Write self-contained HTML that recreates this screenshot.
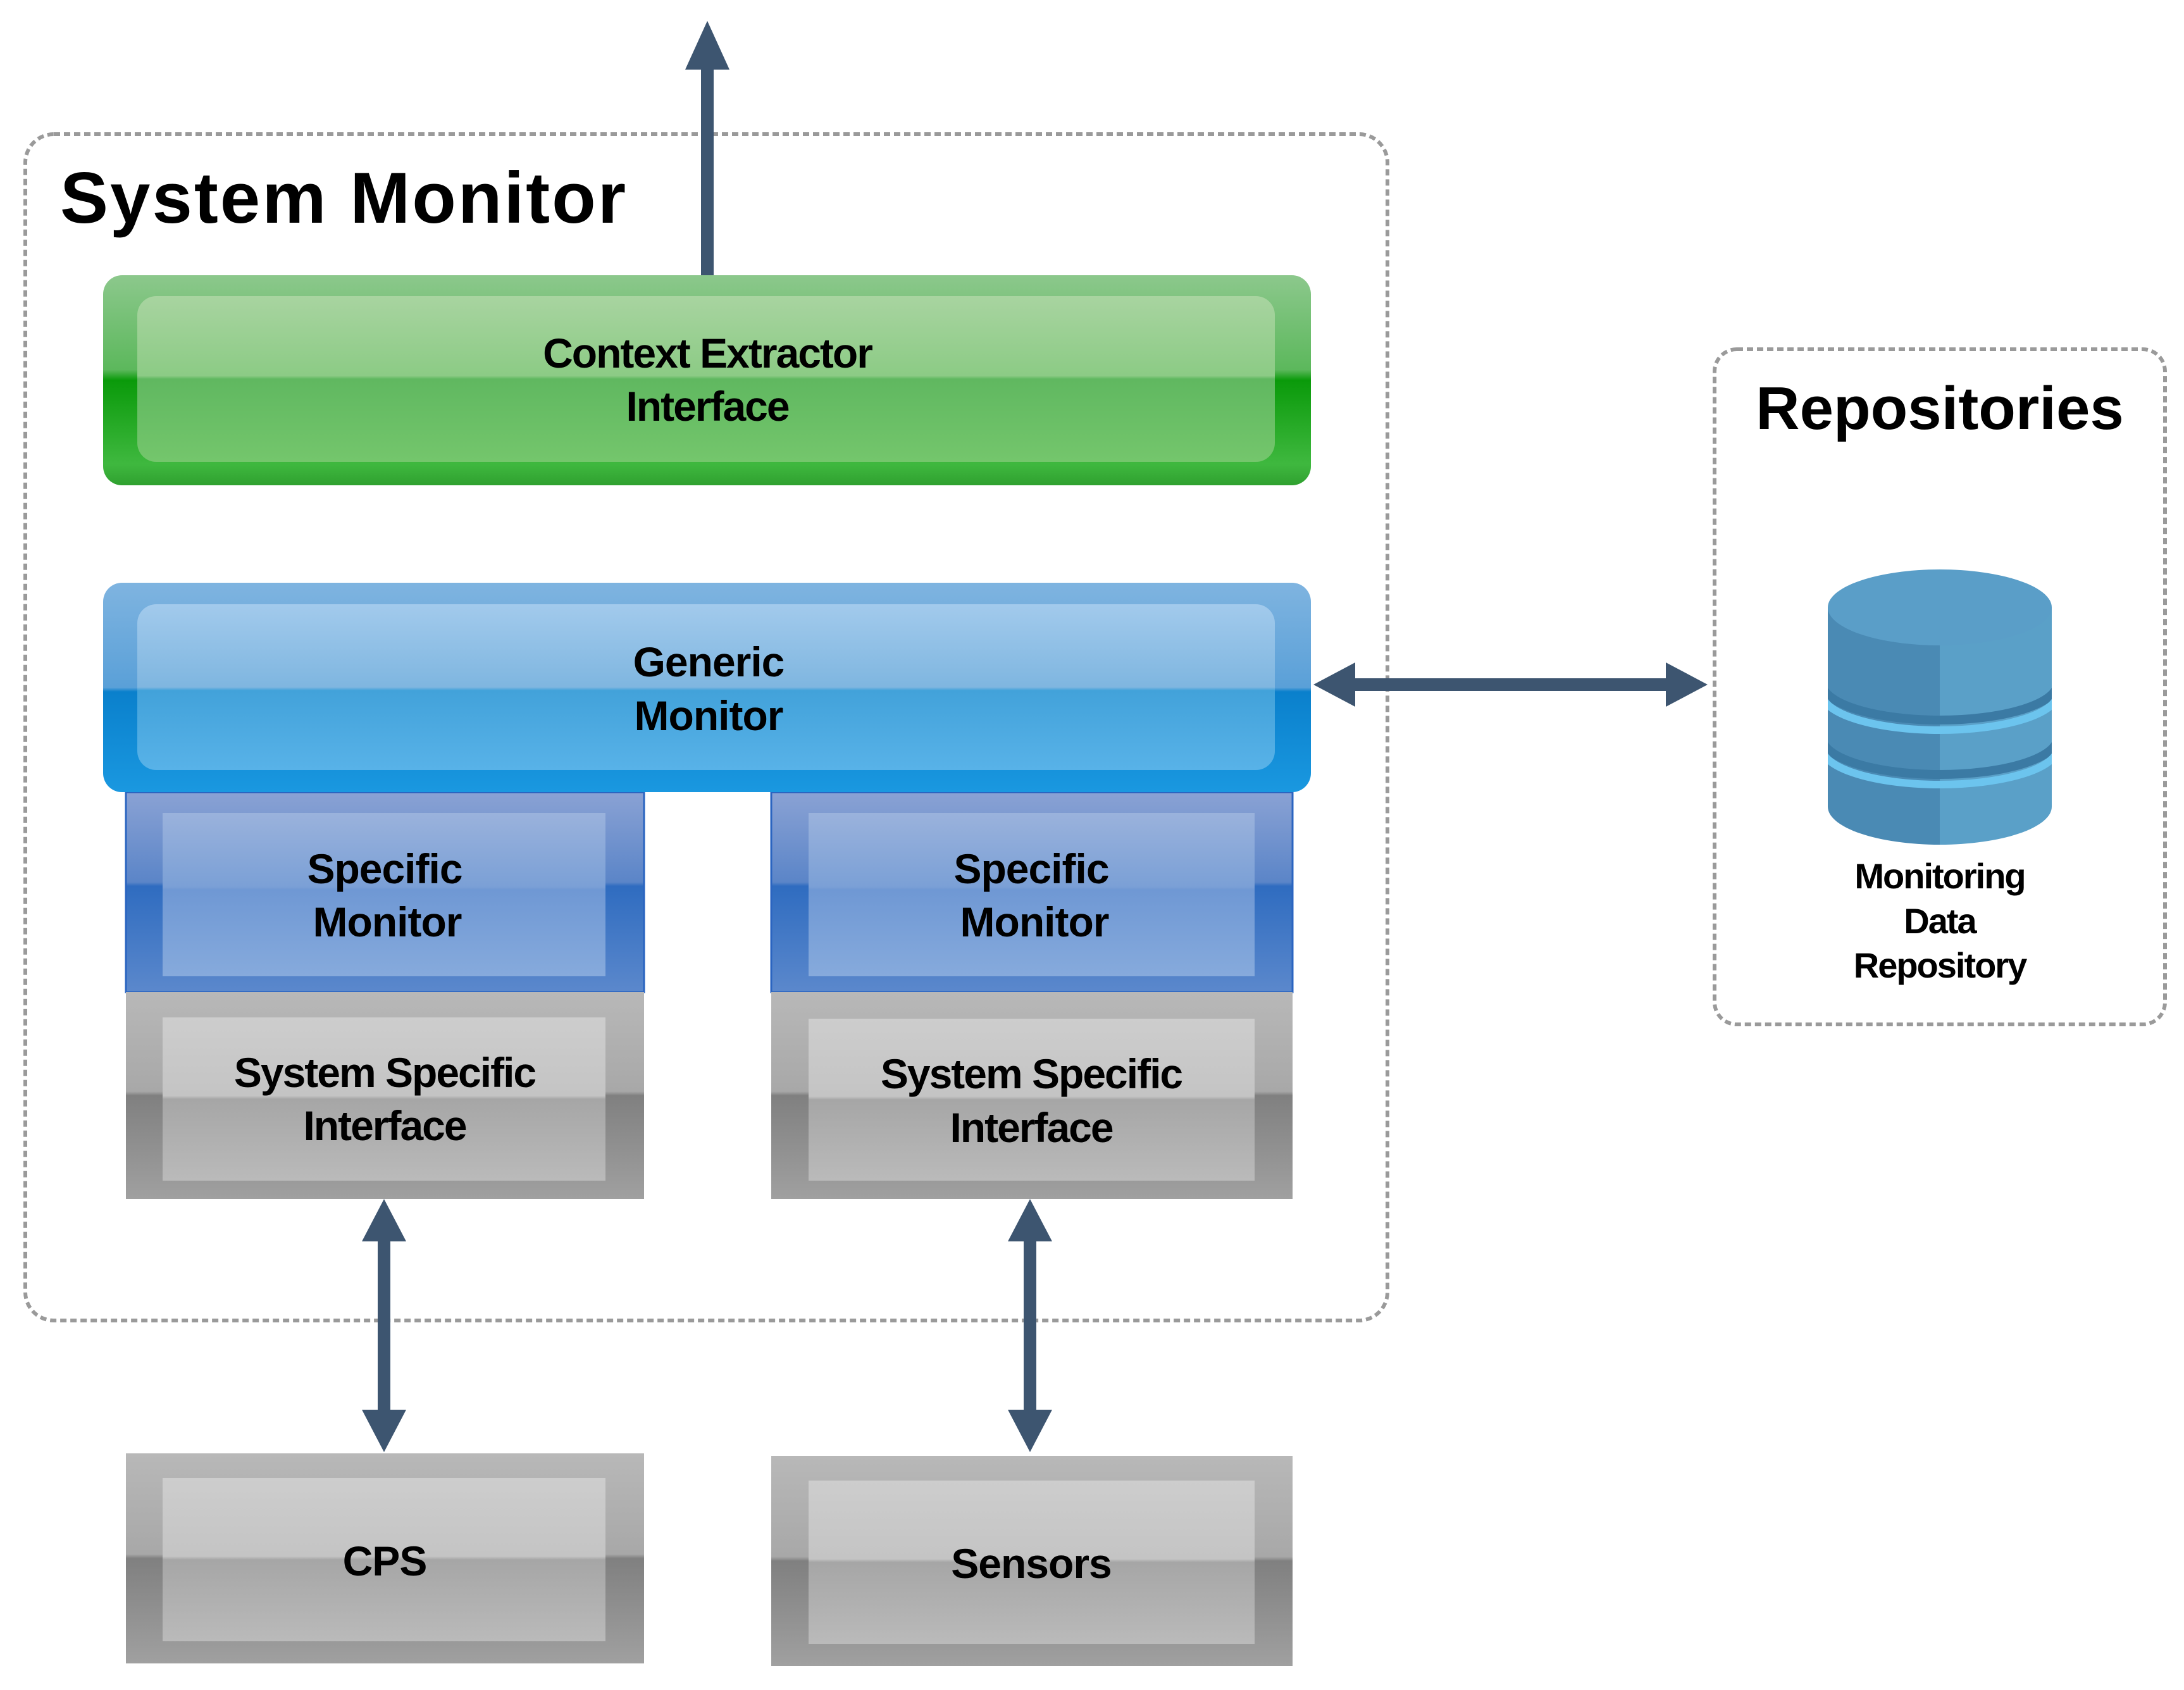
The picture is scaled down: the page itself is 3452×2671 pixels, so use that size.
<!DOCTYPE html>
<html><head><meta charset="utf-8"><style>
html,body{margin:0;padding:0;background:#fff;}
svg{display:block;}
text{font-family:"Liberation Sans",Arial,sans-serif;font-weight:bold;fill:#000;}
</style></head><body>
<svg width="3452" height="2671" viewBox="0 0 3452 2671" xmlns="http://www.w3.org/2000/svg">
<defs>
<linearGradient id="gO" x1="0" y1="0" x2="0" y2="1">
<stop offset="0" stop-color="#8cc88c"/><stop offset="0.45" stop-color="#5cb85c"/><stop offset="0.5" stop-color="#0a9a0a"/><stop offset="0.9" stop-color="#3fb83f"/><stop offset="1" stop-color="#2fa02f"/></linearGradient>
<linearGradient id="gI" x1="0" y1="0" x2="0" y2="1">
<stop offset="0" stop-color="#a8d4a0"/><stop offset="0.48" stop-color="#8ccb85"/><stop offset="0.5" stop-color="#60b860"/><stop offset="1" stop-color="#74c66c"/></linearGradient>
<linearGradient id="bO" x1="0" y1="0" x2="0" y2="1">
<stop offset="0" stop-color="#7fb4e0"/><stop offset="0.5" stop-color="#5aa0d8"/><stop offset="0.52" stop-color="#0a80cc"/><stop offset="1" stop-color="#1a98e0"/></linearGradient>
<linearGradient id="bI" x1="0" y1="0" x2="0" y2="1">
<stop offset="0" stop-color="#a2caec"/><stop offset="0.5" stop-color="#7fb6e0"/><stop offset="0.52" stop-color="#42a2da"/><stop offset="1" stop-color="#58b2e8"/></linearGradient>
<linearGradient id="sO" x1="0" y1="0" x2="0" y2="1">
<stop offset="0" stop-color="#8aa2d4"/><stop offset="0.45" stop-color="#5b85c8"/><stop offset="0.47" stop-color="#2f6cc0"/><stop offset="1" stop-color="#5b88cc"/></linearGradient>
<linearGradient id="sI" x1="0" y1="0" x2="0" y2="1">
<stop offset="0" stop-color="#9ab2dc"/><stop offset="0.45" stop-color="#7ba0d6"/><stop offset="0.47" stop-color="#6f98d4"/><stop offset="1" stop-color="#86aadc"/></linearGradient>
<linearGradient id="yO" x1="0" y1="0" x2="0" y2="1">
<stop offset="0" stop-color="#b8b8b8"/><stop offset="0.48" stop-color="#a8a8a8"/><stop offset="0.5" stop-color="#808080"/><stop offset="1" stop-color="#a0a0a0"/></linearGradient>
<linearGradient id="yI" x1="0" y1="0" x2="0" y2="1">
<stop offset="0" stop-color="#cdcdcd"/><stop offset="0.48" stop-color="#c4c4c4"/><stop offset="0.5" stop-color="#a6a6a6"/><stop offset="1" stop-color="#bababa"/></linearGradient>
<linearGradient id="cyl" x1="0" y1="0" x2="1" y2="0">
<stop offset="0" stop-color="#4a8ab4"/><stop offset="0.5" stop-color="#4a8ab4"/><stop offset="0.5" stop-color="#5aa0c8"/><stop offset="1" stop-color="#5aa0c8"/></linearGradient>
<clipPath id="cc"><path d="M2889,960 L2889,1275 A177,60 0 0 0 3243,1275 L3243,960 Z"/></clipPath>
</defs>

<!-- containers -->
<rect x="40" y="212" width="2153" height="1875" rx="45" fill="#fff" stroke="#9a9a9a" stroke-width="6" stroke-dasharray="10 6"/>
<rect x="2710" y="552" width="712" height="1067" rx="35" fill="#fff" stroke="#9a9a9a" stroke-width="6" stroke-dasharray="10 6"/>
<text x="95" y="352" font-size="114" letter-spacing="3">System Monitor</text>
<text x="3066" y="678" font-size="96" text-anchor="middle">Repositories</text>

<!-- up arrow -->
<rect x="1108" y="110" width="20" height="327" fill="#3d5570"/>
<polygon points="1118,33 1083,110 1153,110" fill="#3d5570"/>

<!-- green -->
<rect x="163" y="435" width="1909" height="332" rx="30" fill="url(#gO)"/>
<rect x="217" y="468" width="1798" height="262" rx="30" fill="url(#gI)"/>
<text x="1118" y="581" font-size="66" text-anchor="middle" letter-spacing="-2">Context Extractor</text>
<text x="1118" y="665" font-size="66" text-anchor="middle" letter-spacing="-2">Interface</text>

<!-- specific monitors -->
<rect x="199" y="1252" width="819" height="316" fill="url(#sO)" stroke="#2a64c0" stroke-width="3"/>
<rect x="257" y="1285" width="700" height="258" fill="url(#sI)"/>
<text x="608" y="1396" font-size="66" text-anchor="middle" letter-spacing="-1">Specific</text>
<text x="612" y="1480" font-size="66" text-anchor="middle" letter-spacing="-1">Monitor</text>
<rect x="1219" y="1252" width="824" height="316" fill="url(#sO)" stroke="#2a64c0" stroke-width="3"/>
<rect x="1278" y="1285" width="705" height="258" fill="url(#sI)"/>
<text x="1630" y="1396" font-size="66" text-anchor="middle" letter-spacing="-1">Specific</text>
<text x="1635" y="1480" font-size="66" text-anchor="middle" letter-spacing="-1">Monitor</text>

<!-- blue generic -->
<rect x="163" y="921" width="1909" height="331" rx="30" fill="url(#bO)"/>
<rect x="217" y="955" width="1798" height="262" rx="30" fill="url(#bI)"/>
<text x="1120" y="1069" font-size="66" text-anchor="middle" letter-spacing="-1">Generic</text>
<text x="1120" y="1154" font-size="66" text-anchor="middle" letter-spacing="-1">Monitor</text>

<!-- SSI -->
<rect x="199" y="1568" width="819" height="327" fill="url(#yO)"/>
<rect x="257" y="1608" width="700" height="258" fill="url(#yI)"/>
<text x="608" y="1718" font-size="66" text-anchor="middle" letter-spacing="-2">System Specific</text>
<text x="608" y="1802" font-size="66" text-anchor="middle" letter-spacing="-2">Interface</text>
<rect x="1219" y="1568" width="824" height="327" fill="url(#yO)"/>
<rect x="1278" y="1610" width="705" height="256" fill="url(#yI)"/>
<text x="1630" y="1720" font-size="66" text-anchor="middle" letter-spacing="-2">System Specific</text>
<text x="1630" y="1805" font-size="66" text-anchor="middle" letter-spacing="-2">Interface</text>

<!-- CPS / Sensors -->
<rect x="199" y="2297" width="819" height="332" fill="url(#yO)"/>
<rect x="257" y="2336" width="700" height="258" fill="url(#yI)"/>
<text x="608" y="2490" font-size="66" text-anchor="middle" letter-spacing="-1">CPS</text>
<rect x="1219" y="2301" width="824" height="332" fill="url(#yO)"/>
<rect x="1278" y="2340" width="705" height="258" fill="url(#yI)"/>
<text x="1630" y="2494" font-size="66" text-anchor="middle" letter-spacing="-1">Sensors</text>

<!-- arrows -->
<g fill="#3d5570">
<rect x="597" y="1960" width="20" height="270"/>
<polygon points="607,1895 572,1962 642,1962"/>
<polygon points="607,2295 572,2228 642,2228"/>
<rect x="1618" y="1960" width="20" height="270"/>
<polygon points="1628,1895 1593,1962 1663,1962"/>
<polygon points="1628,2295 1593,2228 1663,2228"/>
<rect x="2140" y="1072" width="500" height="20"/>
<polygon points="2076,1082 2142,1047 2142,1117"/>
<polygon points="2699,1082 2633,1047 2633,1117"/>
</g>

<!-- cylinder -->
<path d="M2889,960 L2889,1275 A177,60 0 0 0 3243,1275 L3243,960 Z" fill="url(#cyl)"/>
<g clip-path="url(#cc)">
<path d="M2880,1080 A186,58 0 0 0 3252,1080" fill="none" stroke="#3b7aa4" stroke-width="14"/>
<path d="M2880,1096 A186,58 0 0 0 3252,1096" fill="none" stroke="#6cc4ee" stroke-width="12"/>
<path d="M2880,1166 A186,58 0 0 0 3252,1166" fill="none" stroke="#3b7aa4" stroke-width="14"/>
<path d="M2880,1182 A186,58 0 0 0 3252,1182" fill="none" stroke="#6cc4ee" stroke-width="12"/>
</g>
<ellipse cx="3066" cy="960" rx="177" ry="60" fill="#5a9ec8"/>

<text x="3066" y="1404" font-size="56" text-anchor="middle" letter-spacing="-2">Monitoring</text>
<text x="3066" y="1475" font-size="56" text-anchor="middle" letter-spacing="-2">Data</text>
<text x="3066" y="1545" font-size="56" text-anchor="middle" letter-spacing="-2">Repository</text>
</svg>
</body></html>
